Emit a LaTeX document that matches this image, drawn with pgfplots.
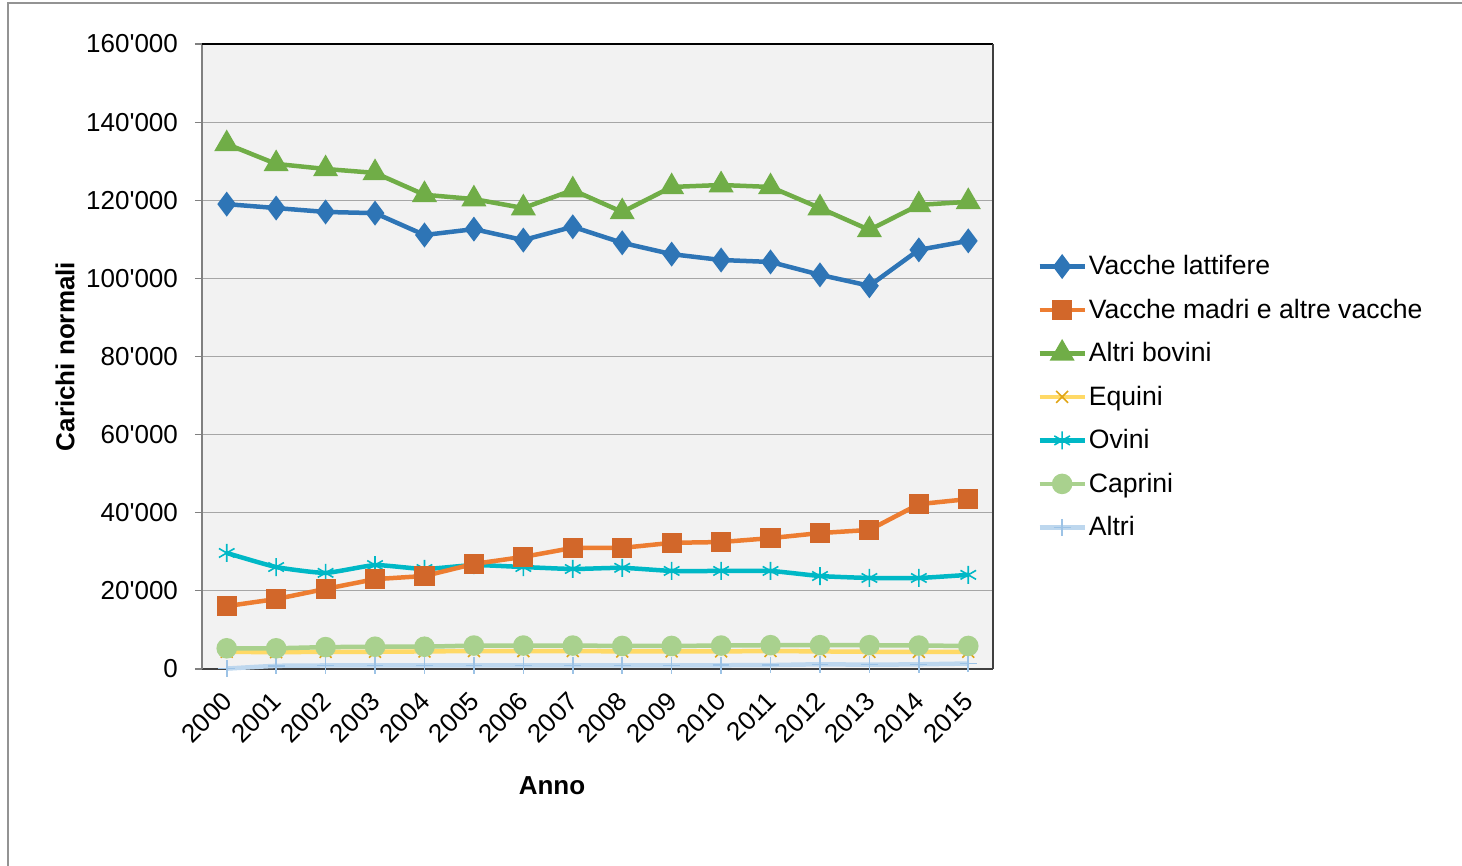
\documentclass[border=0pt]{standalone}
\usepackage{pgfplots}
\pgfplotsset{compat=1.18}
\usepackage{fontspec}
\setmainfont{Liberation Sans}[Ligatures=TeXOff]
\definecolor{cblue}{HTML}{2E75B6}
\definecolor{corange}{HTML}{ED7D31}
\definecolor{corangedk}{HTML}{D2672A}
\definecolor{cgreen}{HTML}{70AD47}
\definecolor{cyellow}{HTML}{FFD966}
\definecolor{cgold}{HTML}{E0A516}
\definecolor{ccyan}{HTML}{00B8C6}
\definecolor{clgreen}{HTML}{A9D18E}
\definecolor{clblue}{HTML}{BDD7EE}
\definecolor{clbluedk}{HTML}{9DC3E6}
\definecolor{cbg}{HTML}{F2F2F2}
\definecolor{cgrid}{HTML}{A6A6A6}

\pgfplotstableread{
x lat madri bov equ ovi cap alt
0 119000 16100 134400 4400 29700 5300 100
1 118000 17900 129300 4300 26100 5300 800
2 117000 20500 128000 4400 24600 5600 900
3 116700 23000 127000 4400 26600 5700 900
4 111100 23800 121400 4500 25600 5700 900
5 112600 26900 120300 4600 26600 6000 900
6 109800 28700 118000 4600 26100 6000 900
7 113200 31000 122600 4600 25600 6000 900
8 109100 31000 117000 4500 25900 5900 900
9 106200 32300 123400 4500 25100 5900 900
10 104700 32500 123900 4500 25100 6000 950
11 104200 33500 123400 4600 25100 6100 1000
12 100900 34800 118000 4500 23800 6100 1200
13 98100 35600 112400 4400 23300 6100 1100
14 107300 42200 118800 4400 23300 6000 1200
15 109600 43500 119600 4400 24100 5900 1400
}\datatable

\pgfplotsset{
  sAlt/.style={color=clblue, line width=2.25pt, mark=+, mark size=4.2pt, mark options={solid, draw=clbluedk, line width=0.8pt}},
  sEqu/.style={color=cyellow, line width=2.25pt, mark=x, mark size=4.2pt, mark options={solid, draw=cgold, line width=0.8pt}},
  sCap/.style={color=clgreen, line width=2.25pt, mark=*, mark size=4pt, mark options={solid, draw=clgreen, fill=clgreen}},
  sOvi/.style={color=ccyan, line width=2.25pt, mark=asterisk, mark size=4.5pt, mark options={solid, draw=ccyan, line width=0.8pt}},
  sMad/.style={color=corange, line width=2.25pt, mark=square*, mark size=3.9pt, mark options={solid, draw=corangedk, fill=corangedk}},
  sBov/.style={color=cgreen, line width=2.25pt, mark=triangle*, mark size=5pt, mark options={solid, draw=cgreen, fill=cgreen}},
  sLat/.style={color=cblue, line width=2.25pt, mark=diamond*, mark size=4.4pt, mark options={solid, draw=cblue, fill=cblue}},
}

\begin{document}
\begin{tikzpicture}[x=1pt,y=1pt]
\useasboundingbox (0,0) rectangle (731,433);
\draw[color=gray!85, line width=1pt] (4,0) -- (4,431.5) -- (735,431.5);
\begin{axis}[
  at={(101pt,98.5pt)}, anchor=south west,
  scale only axis, width=395.5pt, height=312.5pt,
  xmin=-0.5, xmax=15.5, ymin=0, ymax=160000,
  axis background/.style={fill=cbg},
  font=\fontsize{13}{15.6}\selectfont,
  xtick={0,...,15},
  xticklabels={2000,2001,2002,2003,2004,2005,2006,2007,2008,2009,2010,2011,2012,2013,2014,2015},
  xticklabel style={xshift=-3pt, yshift=-7pt, rotate=45, anchor=north east, inner sep=0pt},
  x tick style={draw=none},
  ytick={0,20000,...,160000},
  yticklabels={0,20'000,40'000,60'000,80'000,100'000,120'000,140'000,160'000},
  scaled y ticks=false,
  yticklabel style={xshift=-5pt},
  tick align=outside, major tick length=3.5pt,
  y tick style={color=gray, line width=0.6pt},
  ymajorgrids, grid style={color=cgrid, line width=0.6pt},
  axis x line*=bottom, axis y line*=left,
  x axis line style={draw=black!75, line width=1pt},
  y axis line style={draw=gray, line width=1pt},
  xlabel={\bfseries Anno},
  ylabel={\bfseries Carichi normali},
  xlabel style={at={(axis description cs:0.4425,-0.1872)}, anchor=center},
  ylabel style={at={(axis description cs:-0.1732,0.5)}, anchor=center},
  clip=false,
]
\draw[black, line width=0.8pt] (axis cs:-0.5,160000) -- (axis cs:15.5,160000);
\draw[black!75, line width=1.2pt] (axis cs:15.5,0) -- (axis cs:15.5,160000);
\addplot[sAlt, smooth, tension=0.3] table[x=x,y=alt] {\datatable};
\addplot[sEqu] table[x=x,y=equ] {\datatable};
\addplot[sCap] table[x=x,y=cap] {\datatable};
\addplot[sOvi, smooth, tension=0.3] table[x=x,y=ovi] {\datatable};
\addplot[sMad] table[x=x,y=madri] {\datatable};
\addplot[sBov] table[x=x,y=bov] {\datatable};
\addplot[sLat] table[x=x,y=lat] {\datatable};
\end{axis}
\begin{axis}[
  at={(101pt,98.5pt)}, anchor=south west,
  scale only axis, width=395.5pt, height=312.5pt,
  xmin=-0.5, xmax=15.5, ymin=0, ymax=160000,
  hide axis,
  legend style={at={(1.0556,0.6656)}, anchor=north west, draw=none, fill=none,
    font=\fontsize{13.3}{16}\selectfont, row sep=8.6pt, inner sep=0pt,
    nodes={inner sep=1pt}},
  legend cell align=left,
  legend image code/.code={\draw[mark repeat=2,mark phase=2] plot coordinates {(0pt,0pt) (11.25pt,0pt) (22.5pt,0pt)};},
]
\addlegendimage{sLat}
\addlegendentry{Vacche lattifere}
\addlegendimage{sMad}
\addlegendentry{Vacche madri e altre vacche}
\addlegendimage{sBov}
\addlegendentry{Altri bovini}
\addlegendimage{sEqu}
\addlegendentry{Equini}
\addlegendimage{sOvi}
\addlegendentry{Ovini}
\addlegendimage{sCap}
\addlegendentry{Caprini}
\addlegendimage{sAlt}
\addlegendentry{Altri}
\end{axis}
\end{tikzpicture}
\end{document}
